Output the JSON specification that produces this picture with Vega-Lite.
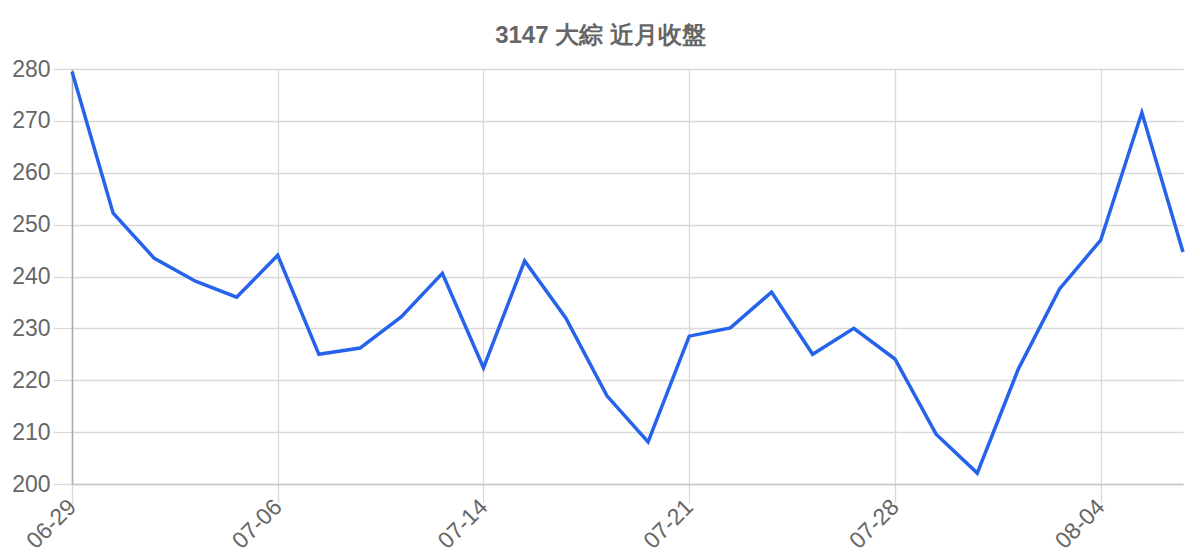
{
  "$schema": "https://vega.github.io/schema/vega-lite/v6.json",
  "autosize": "none",
  "width": 1111,
  "height": 415,
  "padding": {"left": 72, "top": 69, "right": 17, "bottom": 76},
  "background": "white",
  "title": {
    "text": "3147 大綜 近月收盤",
    "font": "Liberation Sans",
    "fontSize": 24,
    "fontWeight": "bold",
    "color": "#666666",
    "anchor": "middle",
    "dx": -27,
    "offset": 10
  },
  "data": {
    "values": [
      {"date": "06-29", "close": 279.5},
      {"date": "06-30", "close": 252.2},
      {"date": "07-01", "close": 243.5},
      {"date": "07-02", "close": 239.1},
      {"date": "07-03", "close": 236.0},
      {"date": "07-06", "close": 244.1},
      {"date": "07-07", "close": 225.0},
      {"date": "07-08", "close": 226.2},
      {"date": "07-09", "close": 232.2},
      {"date": "07-10", "close": 240.6},
      {"date": "07-14", "close": 222.4},
      {"date": "07-15", "close": 243.0},
      {"date": "07-16", "close": 232.0},
      {"date": "07-17", "close": 217.0},
      {"date": "07-20", "close": 208.1},
      {"date": "07-21", "close": 228.5},
      {"date": "07-22", "close": 230.1},
      {"date": "07-23", "close": 237.0},
      {"date": "07-24", "close": 225.0},
      {"date": "07-27", "close": 230.0},
      {"date": "07-28", "close": 224.1},
      {"date": "07-29", "close": 209.6},
      {"date": "07-30", "close": 202.1},
      {"date": "07-31", "close": 222.2},
      {"date": "08-03", "close": 237.6},
      {"date": "08-04", "close": 247.0},
      {"date": "08-05", "close": 271.6},
      {"date": "08-06", "close": 244.7}
    ]
  },
  "mark": {"type": "line", "color": "#2563eb", "strokeWidth": 3.5, "strokeJoin": "miter"},
  "encoding": {
    "x": {
      "field": "date",
      "type": "ordinal",
      "sort": null,
      "scale": {"type": "point", "padding": 0},
      "axis": {
        "title": null,
        "values": ["06-29", "07-06", "07-14", "07-21", "07-28", "08-04"],
        "grid": true,
        "gridColor": "#d9d9d9",
        "gridWidth": 1.3,
        "tickColor": "#d9d9d9",
        "tickWidth": 1.3,
        "tickSize": 19,
        "domainColor": "#c8c8c8",
        "domainWidth": 1.5,
        "labelAngle": -45,
        "labelAlign": "right",
        "labelBaseline": "middle",
        "labelFont": "Liberation Sans",
        "labelFontSize": 23,
        "labelColor": "#666666",
        "labelPadding": 0
      }
    },
    "y": {
      "field": "close",
      "type": "quantitative",
      "scale": {"domain": [200, 280], "zero": false, "nice": false},
      "axis": {
        "title": null,
        "values": [200, 210, 220, 230, 240, 250, 260, 270, 280],
        "grid": true,
        "gridColor": "#d9d9d9",
        "gridWidth": 1.3,
        "tickColor": "#d9d9d9",
        "tickWidth": 1.3,
        "tickSize": 19,
        "domainColor": "#aaaaaa",
        "domainWidth": 1.5,
        "labelFont": "Liberation Sans",
        "labelFontSize": 23,
        "labelColor": "#666666",
        "labelPadding": 3
      }
    }
  },
  "config": {"view": {"stroke": null}}
}
